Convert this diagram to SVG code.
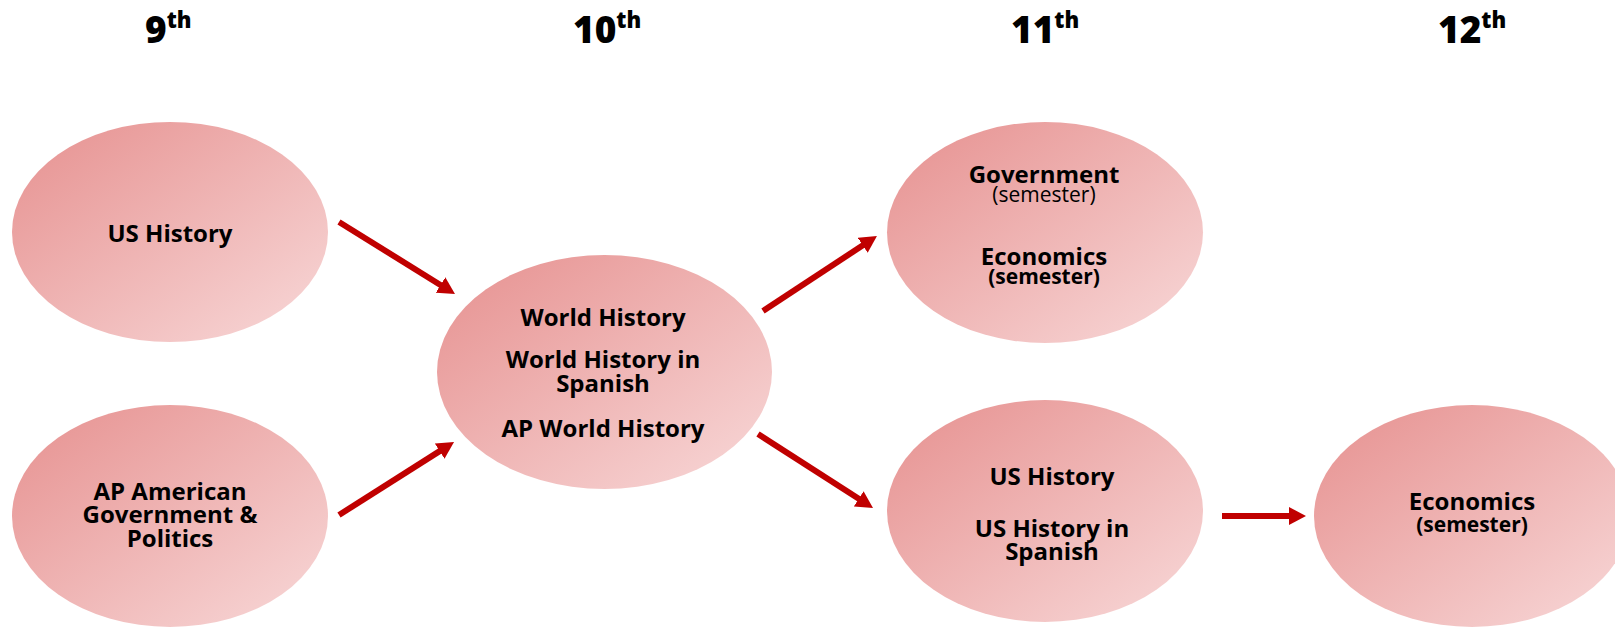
<svg xmlns="http://www.w3.org/2000/svg" width="1615" height="627" viewBox="0 0 1615 627">
<style>
.t{font-family:"Open Sans","Noto Sans",sans-serif;font-weight:700;font-size:24px;fill:#000;text-anchor:middle}
.s{font-size:21px}
.sr{font-size:21px;font-weight:400}
.h{font-family:"Open Sans","Noto Sans",sans-serif;font-weight:800;font-size:37px;fill:#000}
.sup{font-size:22px}
.n{fill:url(#g)}
.c{stroke:#C00000;stroke-width:6;fill:none;marker-end:url(#ah)}
</style>
<defs>
<linearGradient id="g" x1="0" y1="0" x2="1" y2="1">
<stop offset="0" stop-color="#E6908F"/>
<stop offset="1" stop-color="#F8D9D9"/>
</linearGradient>
<marker id="ah" markerUnits="userSpaceOnUse" markerWidth="18" markerHeight="18" refX="7" refY="9" orient="auto" viewBox="0 0 18 18">
<path d="M0,0 L17,9 L0,18 z" fill="#C00000"/>
</marker>
</defs>
<g id="headers">
<text class="h" x="145" y="43">9<tspan class="sup" dy="-15">th</tspan></text>
<text class="h" x="573" y="43">10<tspan class="sup" dy="-15">th</tspan></text>
<text class="h" x="1011" y="43">11<tspan class="sup" dy="-15">th</tspan></text>
<text class="h" x="1438" y="43">12<tspan class="sup" dy="-15">th</tspan></text>
</g>
<g id="node-us-history-9">
<ellipse class="n" cx="170" cy="232" rx="158" ry="110"/>
<text class="t" x="170" y="242">US History</text>
</g>
<g id="node-ap-gov">
<ellipse class="n" cx="170" cy="516" rx="158" ry="111"/>
<text class="t" x="170" y="500">AP American</text>
<text class="t" x="170" y="523">Government &amp;</text>
<text class="t" x="170" y="547">Politics</text>
</g>
<g id="node-world-history">
<ellipse class="n" cx="604.5" cy="372" rx="167.5" ry="117"/>
<text class="t" x="603" y="326">World History</text>
<text class="t" x="603" y="368">World History in</text>
<text class="t" x="603" y="392">Spanish</text>
<text class="t" x="603" y="437">AP World History</text>
</g>
<g id="node-gov-econ">
<ellipse class="n" cx="1045" cy="232.5" rx="158" ry="110.5"/>
<text class="t" x="1044" y="183">Government</text>
<text class="t sr" x="1044" y="202">(semester)</text>
<text class="t" x="1044" y="265">Economics</text>
<text class="t s" x="1044" y="284">(semester)</text>
</g>
<g id="node-us-history-11">
<ellipse class="n" cx="1045" cy="511" rx="158" ry="111"/>
<text class="t" x="1052" y="485">US History</text>
<text class="t" x="1052" y="537">US History in</text>
<text class="t" x="1052" y="560">Spanish</text>
</g>
<g id="node-econ-12">
<ellipse class="n" cx="1472" cy="516" rx="158" ry="111"/>
<text class="t" x="1472" y="510">Economics</text>
<text class="t s" x="1472" y="532">(semester)</text>
</g>
<g id="connectors">
<line class="c" x1="339" y1="222" x2="446.5" y2="288.7"/>
<line class="c" x1="339" y1="515" x2="445.6" y2="447.4"/>
<line class="c" x1="763" y1="311" x2="868.6" y2="241.5"/>
<line class="c" x1="758" y1="434" x2="864.6" y2="502.6"/>
<line class="c" x1="1222" y1="516" x2="1296" y2="516"/>
</g>
</svg>
